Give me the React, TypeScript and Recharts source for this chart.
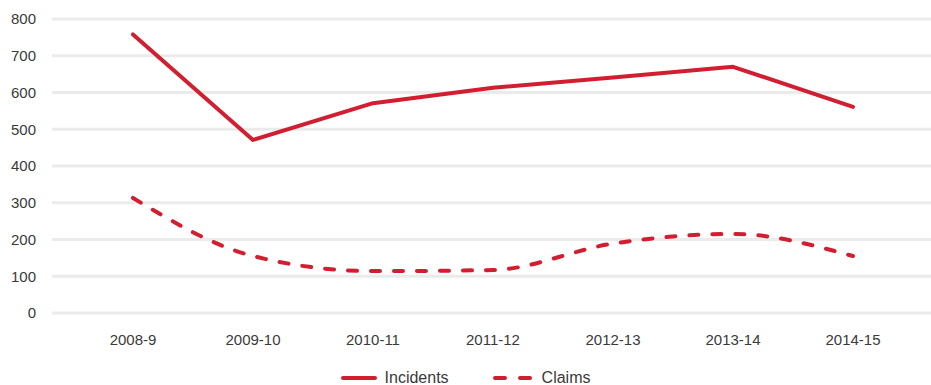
import { LineChart, Line, XAxis, YAxis, CartesianGrid, Legend } from 'recharts';

const years = ['2008-9', '2009-10', '2010-11', '2011-12', '2012-13', '2013-14', '2014-15'];
const incidents = [758, 471, 571, 613, 641, 670, 561];
const claims = [313, 155, 114, 117, 189, 215, 155];
const yTicks = [0, 100, 200, 300, 400, 500, 600, 700, 800];

const RED = '#d11f31';
const TEXT = '#3a3a3a';
const FONT = '"Liberation Sans", Arial, Helvetica, sans-serif';

const data = years.map((year, i) => ({
    year,
    incidents: incidents[i],
    claims: claims[i],
}));

function ChartLegend() {
    return (
        <div
            style={{
                position: 'relative',
                top: 5,
                height: 24,
                display: 'flex',
                justifyContent: 'center',
                alignItems: 'center',
                fontFamily: FONT,
                fontSize: 16,
                color: TEXT,
            }}
        >
            <svg width={36} height={8} style={{ marginRight: 8 }}>
                <line x1={2} y1={4} x2={34} y2={4} stroke={RED} strokeWidth={4} strokeLinecap="round" />
            </svg>
            <span>Incidents</span>
            <svg width={41} height={8} style={{ marginLeft: 44, marginRight: 8 }}>
                <line x1={2} y1={4} x2={39} y2={4} stroke={RED} strokeWidth={4} strokeLinecap="round" strokeDasharray="10 15" />
            </svg>
            <span>Claims</span>
        </div>
    );
}

export default function App() {
    return (
        <div style={{ position: 'absolute', left: 0, top: 0, width: 931, height: 385, background: '#fff' }}>
            <LineChart width={931} height={385} data={data} margin={{ top: 19, right: 0, left: 0, bottom: 0 }}>
                <CartesianGrid vertical={false} stroke="#ebebeb" strokeWidth={3} />
                <XAxis
                    dataKey="year"
                    axisLine={false}
                    tickLine={false}
                    tickSize={0}
                    tickMargin={21}
                    height={48}
                    padding={{ left: 81, right: 78 }}
                    tick={{ fill: TEXT, fontSize: 15, fontFamily: FONT }}
                />
                <YAxis
                    domain={[0, 800]}
                    ticks={yTicks}
                    axisLine={false}
                    tickLine={false}
                    tickSize={0}
                    tickMargin={16}
                    width={52}
                    tick={{ fill: TEXT, fontSize: 15, fontFamily: FONT }}
                />
                <Legend verticalAlign="bottom" height={24} content={() => <ChartLegend />} />
                <Line
                    type="linear"
                    dataKey="incidents"
                    stroke={RED}
                    strokeWidth={4}
                    strokeLinecap="round"
                    strokeLinejoin="round"
                    dot={false}
                    activeDot={false}
                    isAnimationActive={false}
                />
                <Line
                    type="monotone"
                    dataKey="claims"
                    stroke={RED}
                    strokeWidth={4}
                    strokeLinecap="round"
                    strokeDasharray="9 14"
                    dot={false}
                    activeDot={false}
                    isAnimationActive={false}
                />
            </LineChart>
        </div>
    );
}
